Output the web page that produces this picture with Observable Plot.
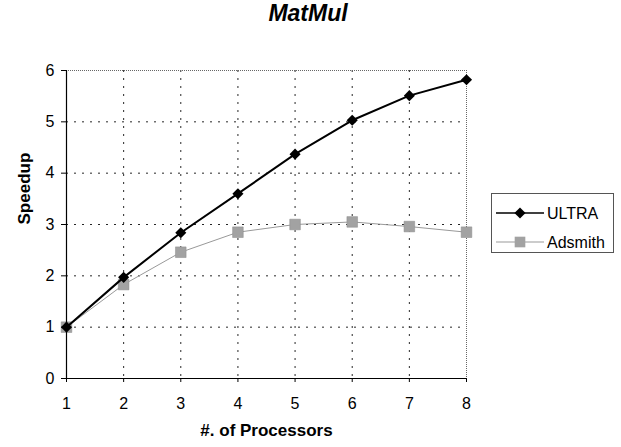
<!DOCTYPE html>
<html><head><meta charset="utf-8">
<script src="https://cdn.jsdelivr.net/npm/d3@7"></script>
<script src="https://cdn.jsdelivr.net/npm/@observablehq/plot@0.6"></script>
<style>
body{margin:0;background:#fff;font-family:"Liberation Sans",Arial,sans-serif;}
#wrap{position:relative;width:621px;height:447px;overflow:hidden;}
#chart{position:absolute;left:0;top:0;}
#title{position:absolute;left:0;width:616px;top:0px;text-align:center;font-weight:bold;font-style:italic;font-size:23px;line-height:26px;}
#legend{position:absolute;left:491px;top:193px;width:123px;height:60px;border:1px solid #555;box-sizing:border-box;background:#fff;}
</style></head><body>
<div id="wrap"><div id="chart"></div><div id="title">MatMul</div><div id="legend"></div></div>
<script>
const processors = [1, 2, 3, 4, 5, 6, 7, 8];
const ultra = [1.00, 1.97, 2.84, 3.60, 4.37, 5.03, 5.51, 5.82];
const adsmith = [1.00, 1.83, 2.46, 2.85, 3.00, 3.05, 2.96, 2.85];
const seriesNames = ["ULTRA", "Adsmith"];
const yTicks = [0, 1, 2, 3, 4, 5, 6];

const ultraData = processors.map((p, i) => ({p, v: ultra[i], s: seriesNames[0]}));
const adsmithData = processors.map((p, i) => ({p, v: adsmith[i], s: seriesNames[1]}));

const chart = Plot.plot({
  width: 621, height: 447,
  marginLeft: 66, marginRight: 155, marginTop: 70, marginBottom: 69,
  style: {fontFamily: "Liberation Sans, Arial, sans-serif", fontSize: "16px", background: "white", color: "#000"},
  x: {domain: [1, 8], ticks: processors, label: null},
  y: {domain: [0, 6], ticks: yTicks, label: null},
  marks: [
    Plot.gridY(yTicks.filter(d => d > 0 && d < 6), {stroke: "#000", strokeOpacity: 0.85, strokeDasharray: "2,6"}),
    Plot.gridX(processors.slice(1, -1), {stroke: "#000", strokeOpacity: 0.85, strokeDasharray: "2,6"}),
    Plot.ruleY([6], {stroke: "#666", strokeDasharray: "1,1"}),
    Plot.ruleX([8], {stroke: "#666", strokeDasharray: "1,1"}),
    Plot.line(adsmithData, {x: "p", y: "v", stroke: "#999", strokeWidth: 1}),
    Plot.dot(adsmithData, {x: "p", y: "v", symbol: "square", r: 6, fill: "#a2a2a2", stroke: "#8a8a8a", strokeWidth: 0.5}),
    Plot.line(ultraData, {x: "p", y: "v", stroke: "#000", strokeWidth: 2}),
    Plot.dot(ultraData, {x: "p", y: "v", symbol: "diamond2", r: 5, fill: "#000"}),
    Plot.axisY({ticks: yTicks, tickFormat: "d", tickSize: 5, tickPadding: 7, label: null, fontSize: 16}),
    Plot.axisX({ticks: processors, tickFormat: "d", tickSize: 4, tickPadding: 15, label: null, fontSize: 16}),
    Plot.ruleY([0], {stroke: "#000", strokeWidth: 1.2}),
    Plot.ruleX([1], {stroke: "#000", strokeWidth: 1.2}),
    Plot.text(["#. of Processors"], {frameAnchor: "bottom", dy: 57, fontWeight: "bold", fontSize: 17}),
    Plot.text(["Speedup"], {frameAnchor: "left", dx: -42, rotate: -90, fontWeight: "bold", fontSize: 17})
  ]
});
document.getElementById("chart").appendChild(chart);

// legend
const lg = d3.select("#legend").append("svg").attr("width", 121).attr("height", 58)
  .style("font-family", "Liberation Sans, Arial, sans-serif").style("font-size", "16px");
const rows = [
  {name: seriesNames[0], stroke: "#000", sw: 1.5, sym: d3.symbolDiamond2, fill: "#000", r: 5},
  {name: seriesNames[1], stroke: "#999", sw: 1, sym: d3.symbolSquare, fill: "#a2a2a2", r: 6}
];
rows.forEach((row, i) => {
  const y = 19 + i * 29;
  lg.append("line").attr("x1", 4).attr("x2", 52).attr("y1", y).attr("y2", y).attr("stroke", row.stroke).attr("stroke-width", row.sw);
  lg.append("path").attr("d", d3.symbol(row.sym, Math.PI * row.r * row.r)()).attr("transform", `translate(28,${y})`).attr("fill", row.fill);
  lg.append("text").attr("x", 55).attr("y", y).attr("dy", "0.35em").text(row.name);
});
</script>
</body></html>
